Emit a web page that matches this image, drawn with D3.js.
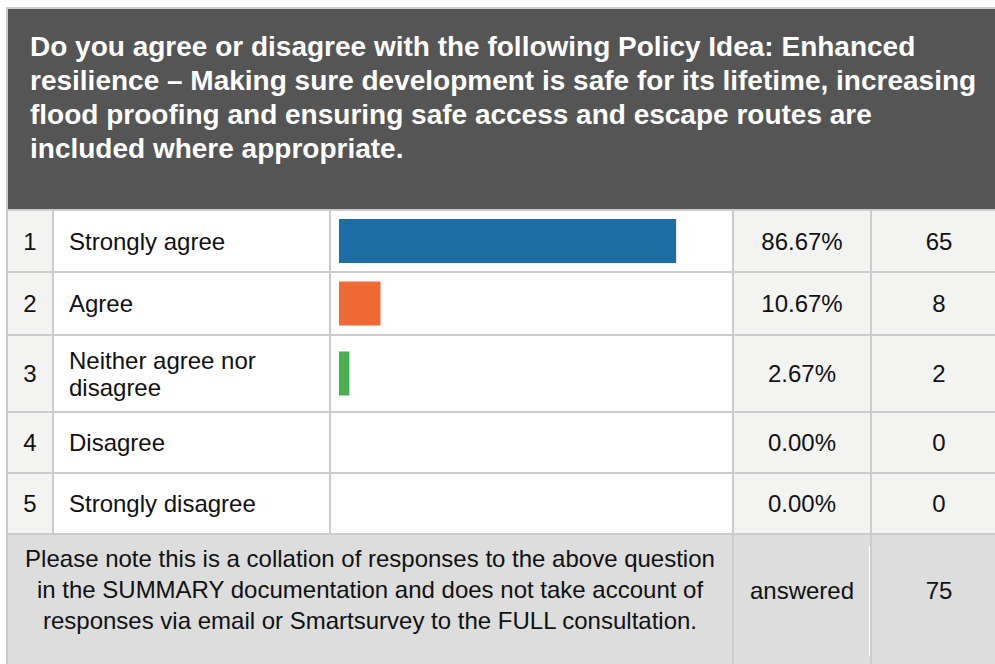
<!DOCTYPE html>
<html>
<head>
<meta charset="utf-8">
<script src="https://cdn.jsdelivr.net/npm/d3@7"></script>
<style>
  html, body { margin: 0; padding: 0; background: #fff; overflow: hidden; }
  svg { display: block; font-family: "Liberation Sans", Arial, sans-serif; }
</style>
</head>
<body>
<div id="vis"></div>
<script>
// question text, already broken into lines as in the survey export
const titleLines = [
  "Do you agree or disagree with the following Policy Idea: Enhanced",
  "resilience \u2013 Making sure development is safe for its lifetime, increasing",
  "flood proofing and ensuring safe access and escape routes are",
  "included where appropriate."
];

const rowNums = [1, 2, 3, 4, 5];
const answers = [
  ["Strongly agree"],
  ["Agree"],
  ["Neither agree nor", "disagree"],
  ["Disagree"],
  ["Strongly disagree"]
];
const percents = [86.67, 10.67, 2.67, 0.0, 0.0];
const counts = [65, 8, 2, 0, 0];
const barColours = ["#1c6ea4", "#f06a35", "#4caf50", "#888888", "#888888"];

const footerLines = [
  "Please note this is a collation of responses to the above question",
  "in the SUMMARY documentation and does not take account of",
  "responses via email or Smartsurvey to the FULL consultation."
];
const answeredLabel = "answered";
const answeredCount = 75;

function init() {
  const width = 995;
  const height = 664;

  // table grid (cell edges, px) - last column runs a little past the window
  const left = 6, top = 7, gap = 2;
  const colEdges = [8, 52, 54, 329, 331, 732, 734, 870, 872, 1006];
  const headerBottom = 209;
  const rowHeights = [60, 61, 75, 59, 59];
  const rowTops = rowHeights.map((h, i) => 211 + d3.sum(rowHeights.slice(0, i)) + i * gap);
  const footerTop = rowTops[4] + rowHeights[4] + gap;

  const lineCol = "#cccccc";
  const cellGrey = "#f3f3f2";

  const svg = d3
    .select("#vis")
    .append("svg")
    .attr("width", width)
    .attr("height", height);

  // grid lines come from the background showing through the gaps
  svg.append("rect")
    .attr("x", left).attr("y", top)
    .attr("width", width - left).attr("height", height - top)
    .attr("fill", lineCol);

  // header
  svg.append("rect")
    .attr("x", colEdges[0]).attr("y", top + gap)
    .attr("width", width - colEdges[0]).attr("height", headerBottom - top - gap)
    .attr("fill", "#545554");

  svg.append("g")
    .selectAll("text")
    .data(titleLines)
    .join("text")
    .attr("x", 30)
    .attr("y", (d, i) => 56 + i * 34)
    .attr("fill", "#ffffff")
    .style("font-size", "28px")
    .style("font-weight", "bold")
    .text((d) => d);

  // bar scale
  const x = d3.scaleLinear().domain([0, 100]).range([0, 389]);
  const barX = colEdges[4] + 8;
  const barH = 44;

  const rows = svg.append("g")
    .selectAll("g")
    .data(rowNums.map((n, i) => ({
      n,
      label: answers[i],
      pct: percents[i],
      count: counts[i],
      colour: barColours[i],
      y: rowTops[i],
      h: rowHeights[i]
    })))
    .join("g")
    .attr("transform", (d) => `translate(0,${d.y})`);

  const cellFills = [cellGrey, "#ffffff", "#ffffff", cellGrey, cellGrey];
  cellFills.forEach((fill, c) => {
    rows.append("rect")
      .attr("x", colEdges[c * 2])
      .attr("width", colEdges[c * 2 + 1] - colEdges[c * 2])
      .attr("height", (d) => d.h)
      .attr("fill", fill);
  });

  rows.append("rect")
    .attr("x", barX)
    .attr("y", (d) => (d.h - barH) / 2)
    .attr("width", (d) => x(d.pct))
    .attr("height", barH)
    .attr("fill", (d) => d.colour);

  const txt = (sel) => sel.attr("fill", "#111").style("font-size", "24px");

  rows.append("text")
    .attr("x", (colEdges[0] + colEdges[1]) / 2)
    .attr("y", (d) => d.h / 2)
    .attr("dy", "0.36em")
    .attr("text-anchor", "middle")
    .call(txt)
    .text((d) => d.n);

  rows.append("text")
    .attr("y", (d) => d.h / 2 - (d.label.length - 1) * 13.5)
    .call(txt)
    .selectAll("tspan")
    .data((d) => d.label)
    .join("tspan")
    .attr("x", 69)
    .attr("dy", (d, i) => (i === 0 ? "0.36em" : "27px"))
    .text((d) => d);

  rows.append("text")
    .attr("x", (colEdges[6] + colEdges[7]) / 2)
    .attr("y", (d) => d.h / 2)
    .attr("dy", "0.36em")
    .attr("text-anchor", "middle")
    .call(txt)
    .text((d) => d.pct.toFixed(2) + "%");

  rows.append("text")
    .attr("x", (colEdges[8] + colEdges[9]) / 2)
    .attr("y", (d) => d.h / 2)
    .attr("dy", "0.36em")
    .attr("text-anchor", "middle")
    .call(txt)
    .text((d) => d.count);

  // footer
  const footer = svg.append("g").attr("transform", `translate(0,${footerTop})`);
  const footH = height - footerTop;
  const footGrey = "#dddddd";
  [[0, 5], [6, 7], [8, 9]].forEach(([a, b]) => {
    footer.append("rect")
      .attr("x", colEdges[a]).attr("width", colEdges[b] - colEdges[a])
      .attr("height", footH).attr("fill", footGrey);
  });
  footer.append("rect")
    .attr("x", colEdges[7] - 1).attr("y", 11)
    .attr("width", 1).attr("height", footH - 19)
    .attr("fill", "#ffffff");

  const footMid = (colEdges[0] + colEdges[5]) / 2;
  footer.append("g")
    .selectAll("text")
    .data(footerLines)
    .join("text")
    .attr("x", footMid)
    .attr("y", (d, i) => 23 + i * 31)
    .attr("dy", "0.36em")
    .attr("text-anchor", "middle")
    .call(txt)
    .text((d) => d);

  footer.append("text")
    .attr("x", (colEdges[6] + colEdges[7]) / 2)
    .attr("y", 55)
    .attr("dy", "0.36em")
    .attr("text-anchor", "middle")
    .call(txt)
    .text(answeredLabel);

  footer.append("text")
    .attr("x", (colEdges[8] + colEdges[9]) / 2)
    .attr("y", 55)
    .attr("dy", "0.36em")
    .attr("text-anchor", "middle")
    .call(txt)
    .text(answeredCount);
}

init();
</script>
</body>
</html>
